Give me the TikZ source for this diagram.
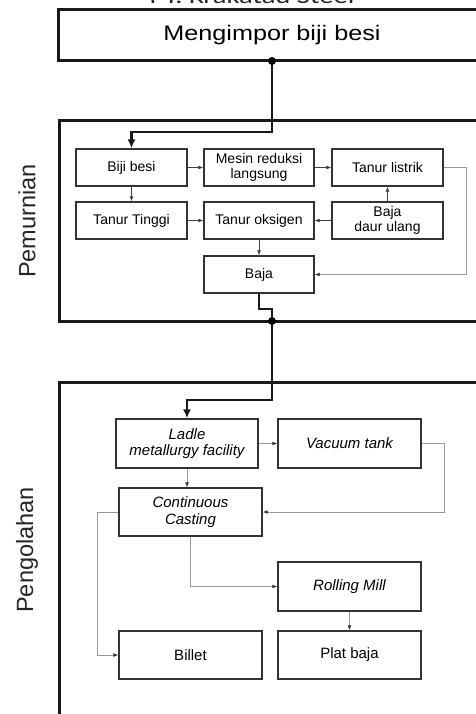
\documentclass[tikz,border=0pt]{standalone}
\usepackage{fontspec}
\setmainfont{Liberation Sans}
\newfontfamily\titlefont{Carlito}
\usetikzlibrary{arrows.meta}
\tikzset{
  box/.style={draw=black!80, line width=1.3pt, fill=white, minimum width=111pt, minimum height=37pt,
    inner sep=0pt, align=center, font=\fontsize{14}{15}\selectfont},
  bigbox/.style={box, minimum width=143pt, minimum height=49pt, font=\fontsize{15}{16.5}\selectfont},
  frame/.style={draw=black!90, line width=3pt, inner sep=0pt},
  flow/.style={draw=black!90, line width=2.6pt, -{Latex[length=9pt,width=8pt]}},
  arr/.style={draw=black!75, line width=0.8pt, -{Latex[length=5pt,width=4pt]}},
  greyarr/.style={draw=black!40, line width=0.9pt, arrows={-{Latex[length=5pt,width=4pt,color=black!80]}}},
  lbl/.style={rotate=90, font=\fontsize{23.5}{23.5}\selectfont, text=black!85},
  dotc/.style={fill=black}
}
\begin{document}
\begin{tikzpicture}[x=1pt,y=-1pt]
\useasboundingbox (0,0) rectangle (476,714);
\fill[white] (0,0) rectangle (476,714);

% title (cut off at top, as in the reference)
\node[font=\titlefont\fontsize{22}{22}\selectfont, anchor=base, inner sep=0pt, text=black!85] (title) at (252,4) {\scalebox{1.3}[1]{PT. Krakatau Steel}};

% frames
\node[frame, minimum width=432pt, minimum height=51pt, font=\fontsize{21}{25}\selectfont] (impor) at (274,35.5) {\hspace*{-4pt}\scalebox{1.2}[1]{Mengimpor biji besi}};
\node[frame, minimum width=431pt, minimum height=200pt] (pem) at (274.5,221) {};
\node[frame, minimum width=431pt, minimum height=348pt] (peng) at (274.5,556) {};

\node[lbl] (lab1) at (27,221) {Pemurnian};
\node[lbl] (lab2) at (27,550) {Pengolahan};

% Pemurnian boxes
\node[box] (biji) at (131.5,167.5) {Biji besi};
\node[box, minimum width=110pt] (mesin) at (259,167.5) {Mesin reduksi\\langsung};
\node[box] (listrik) at (387.5,167.5) {Tanur listrik};
\node[box] (tinggi) at (131.5,220.5) {Tanur Tinggi};
\node[box, minimum width=110pt] (oksigen) at (259,220.5) {Tanur oksigen};
\node[box] (daur) at (387.5,220.5) {Baja\\daur ulang};
\node[box, minimum width=110pt] (baja) at (259,274.5) {Baja};

% Pengolahan boxes
\node[bigbox, minimum width=142pt] (ladle) at (187,443.5) {\itshape Ladle\\\itshape metallurgy facility};
\node[bigbox] (vacuum) at (349.5,443.5) {\itshape Vacuum tank};
\node[bigbox, minimum height=48pt] (cc) at (190.5,512) {\itshape Continuous\\\itshape Casting};
\node[bigbox] (rolling) at (349.5,586.5) {\itshape Rolling Mill};
\node[bigbox, minimum height=48pt] (billet) at (190.5,655) {Billet};
\node[bigbox, minimum height=48pt] (plat) at (349.5,655) {Plat baja};

% main flow
\coordinate (d1) at (272,61);
\coordinate (j1) at (272,132);
\draw[flow] (d1) -- (j1) -| (biji.north);
\fill[dotc] (d1) circle (4pt);

\coordinate (b1) at (259,309);
\coordinate (b2) at (272,309);
\coordinate (d2) at (272,321);
\coordinate (b3) at (272,400);
\draw[flow] (baja.south) -- (b1) -- (b2) -- (b3) -| (ladle.north);
\fill[dotc] (d2) circle (4pt);

% Pemurnian arrows
\draw[arr] (biji) -- (mesin);
\draw[arr] (mesin) -- (listrik);
\draw[arr] (biji) -- (tinggi);
\draw[arr] (tinggi) -- (oksigen);
\draw[arr] (daur) -- (oksigen);
\draw[arr] (daur) -- (listrik);
\draw[arr] (oksigen) -- (baja);
\draw[greyarr] (listrik.east) -- ++(23,0) |- (baja.east);

% Pengolahan arrows
\draw[greyarr] (ladle) -- (vacuum);
\draw[greyarr] (ladle.south) -- (ladle.south |- cc.north);
\draw[greyarr] (vacuum.east) -- ++(23,0) |- (cc.east);
\draw[greyarr] (cc.west) -- ++(-21,0) |- (billet.west);
\draw[greyarr] (cc.south) |- (rolling.west);
\draw[greyarr] (rolling) -- (plat);
\end{tikzpicture}
\end{document}
